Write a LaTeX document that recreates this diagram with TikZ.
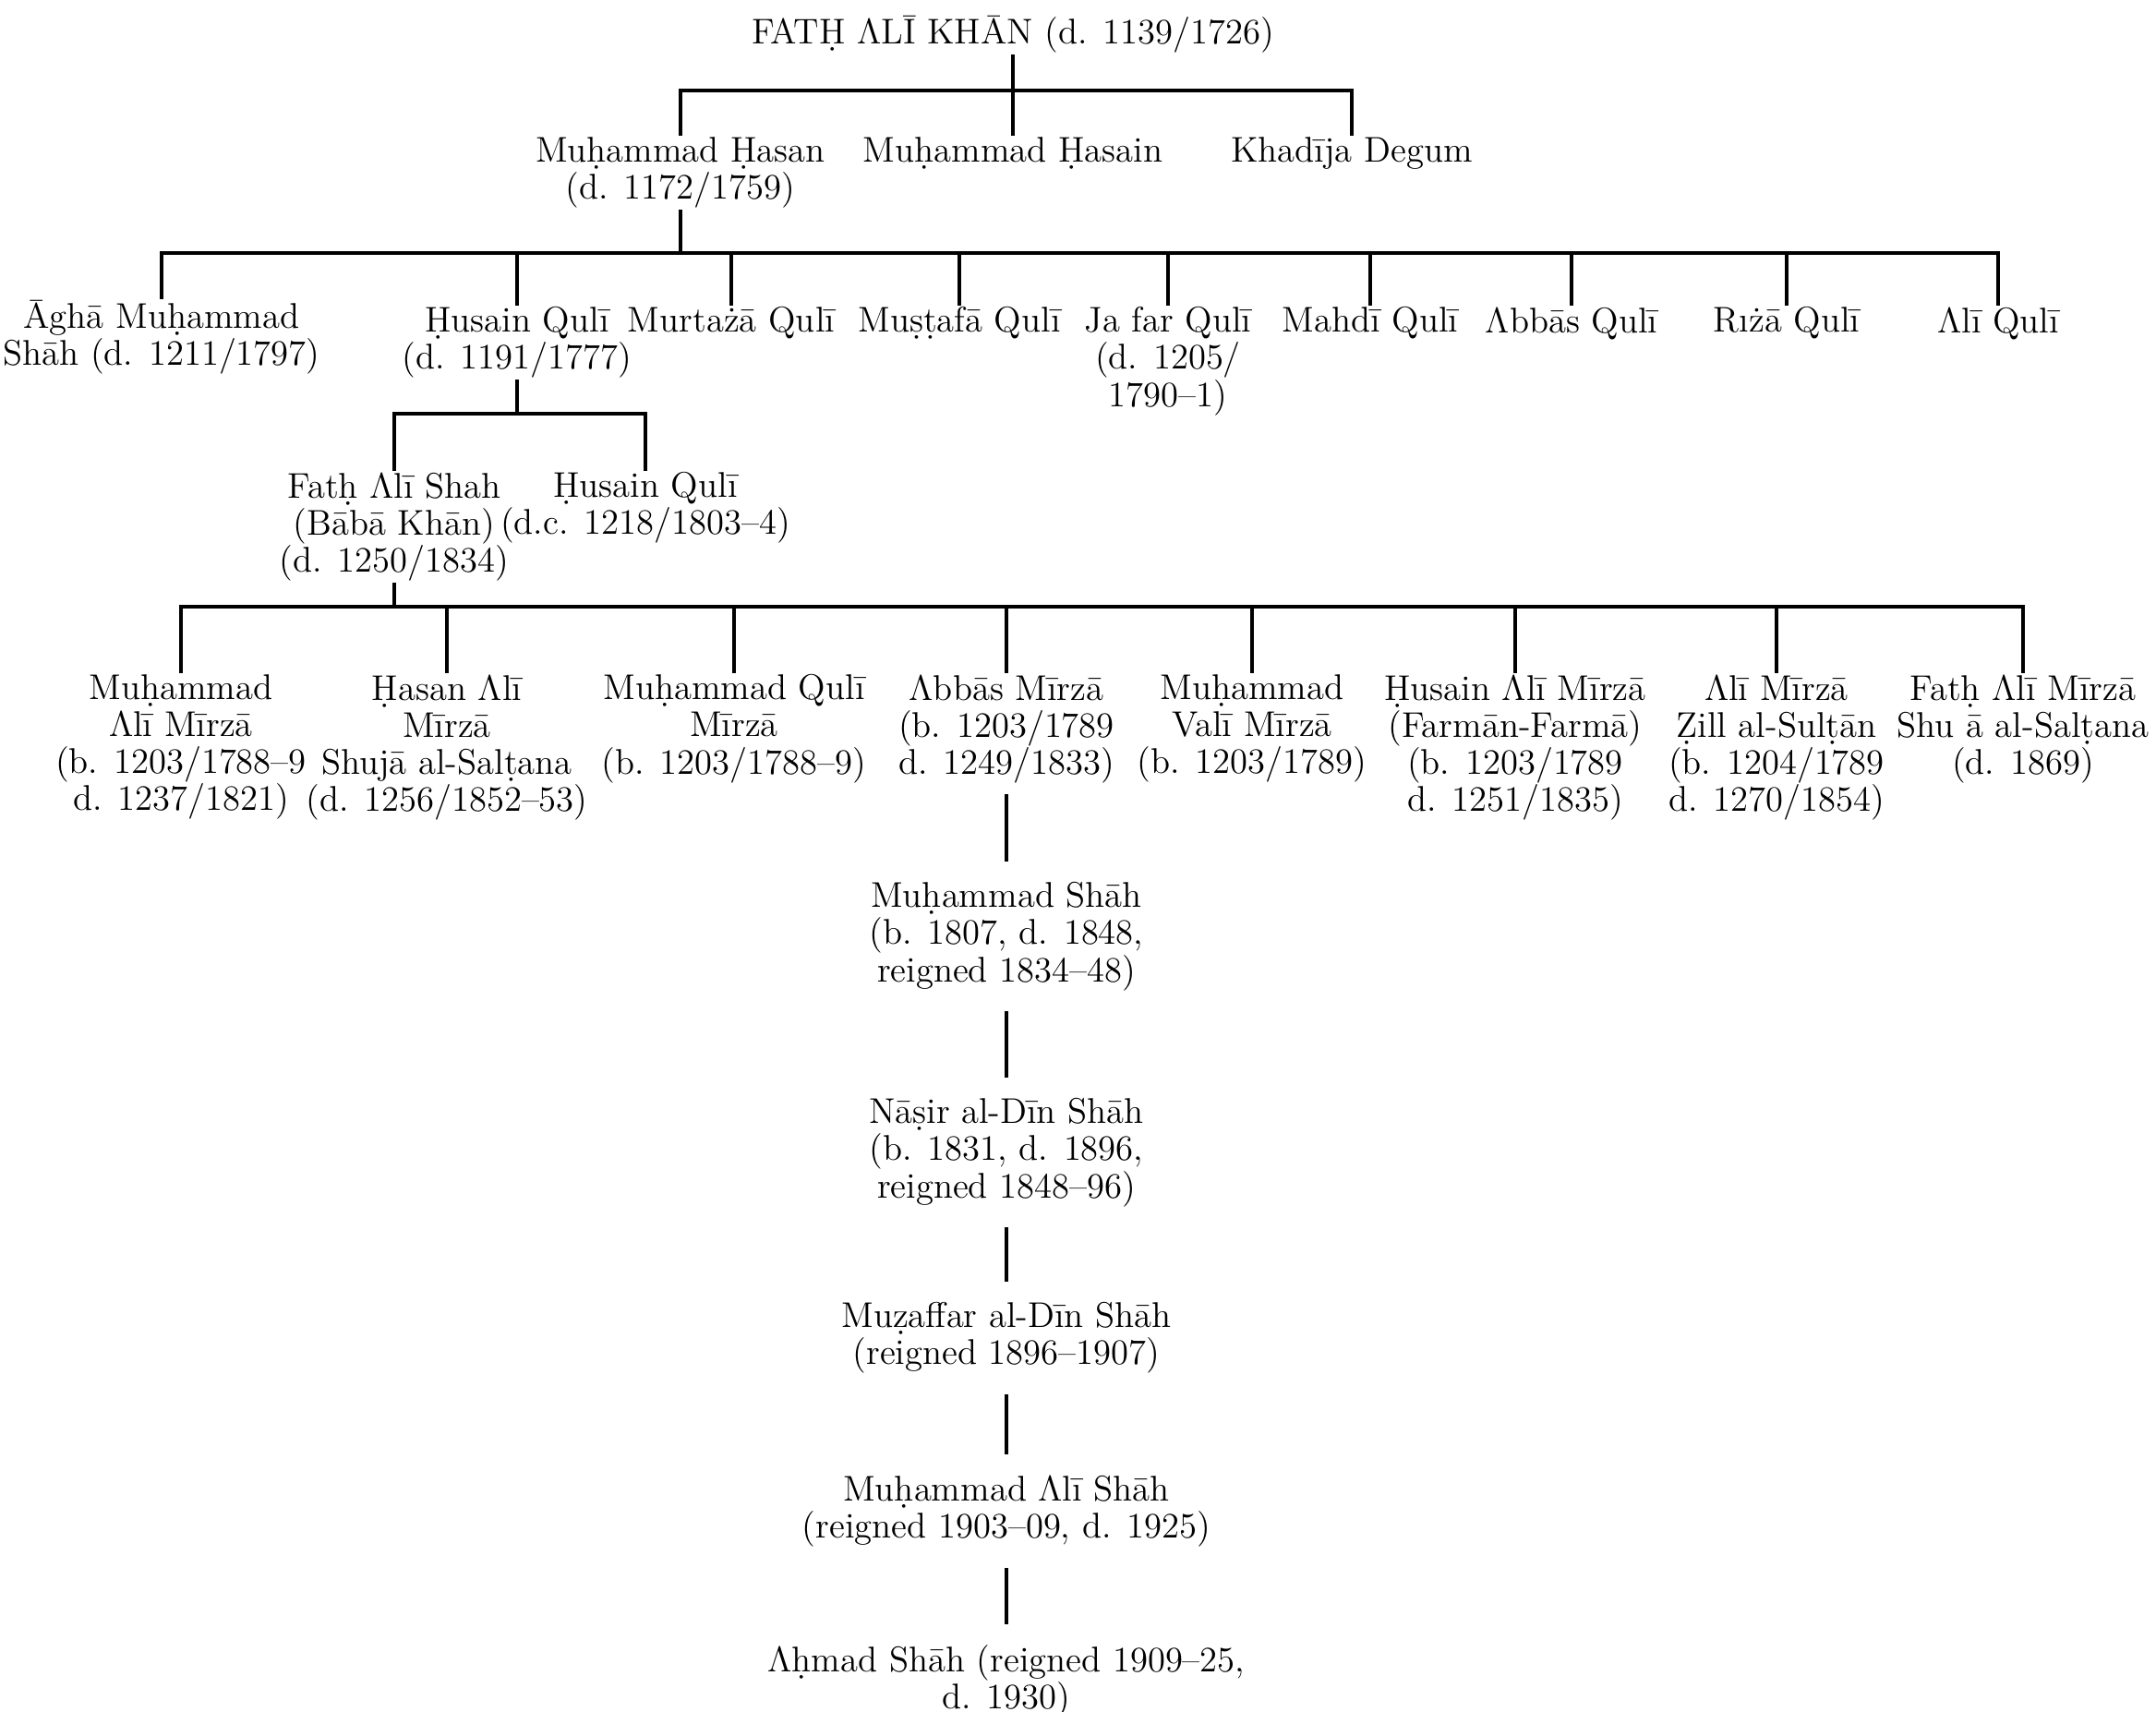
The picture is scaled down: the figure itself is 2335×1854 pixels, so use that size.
\documentclass[tikz,border=0pt]{standalone}
\usepackage{fontspec}
\newcommand{\famfont}{\fontsize{11}{11.4}\selectfont\lineskiplimit=-6pt\relax}
\begin{document}
\begin{tikzpicture}[x=0.01cm,y=-0.01cm,line width=0.9pt,
        person/.style={anchor=north,align=center,inner sep=0pt,font=\famfont},
        gap/.style={shorten <=6pt,shorten >=6pt}]
        \useasboundingbox (0,0) rectangle (2335,1854);
        \node[person] (fath) at (1097,16) {FATḤ ΛLĪ KHĀN (d. 1139/1726)};
        \node[person] (mhasan) at (737,147) {Muḥammad Ḥasan\\(d. 1172/1759)};
        \node[person] (mhasain) at (1097,147) {Muḥammad Ḥasain};
        \node[person] (khadija) at (1464,147) {Khadīja Degum};
        \node[person] (agha) at (175,324) {Āghā Muḥammad\\Shāh (d. 1211/1797)};
        \node[person] (husainA) at (560,331) {Ḥusain Qulī\\(d. 1191/1777)};
        \node[person] (murtaza) at (792,331) {Murtażā Qulī};
        \node[person] (mustafa) at (1039,331) {Muṣṭafā Qulī};
        \node[person] (jafar) at (1265,331) {Ja far Qulī\\(d. 1205/\\1790–1)};
        \node[person] (mahdi) at (1484,331) {Mahdī Qulī};
        \node[person] (abbasq) at (1702,331) {Λbbās Qulī};
        \node[person] (riza) at (1935,331) {Rıżā Qulī};
        \node[person] (aliq) at (2164,331) {Λlī Qulī};
        \node[person] (fathshah) at (427,510) {Fatḥ Λlī Shah\\(Bābā Khān)\\(d. 1250/1834)};
        \node[person] (husainB) at (699,510) {Ḥusain Qulī\\(d.c. 1218/1803–4)};
        \node[person] (mali) at (196,729) {Muḥammad\\Λlī Mīrzā\\(b. 1203/1788–9\\d. 1237/1821)};
        \node[person] (hasanali) at (484,729) {Ḥasan Λlī\\Mīrzā\\Shujā al-Salṭana\\(d. 1256/1852–53)};
        \node[person] (mquli) at (795,729) {Muḥammad Qulī\\Mīrzā\\(b. 1203/1788–9)};
        \node[person] (abbas) at (1090,729) {Λbbās Mīrzā\\(b. 1203/1789\\d. 1249/1833)};
        \node[person] (mvali) at (1356,729) {Muḥammad\\Valī Mīrzā\\(b. 1203/1789)};
        \node[person] (husainali) at (1641,729) {Ḥusain Λlī Mīrzā\\(Farmān-Farmā)\\(b. 1203/1789\\d. 1251/1835)};
        \node[person] (alimirza) at (1924,729) {Λlī Mīrzā\\Ẓill al-Sulṭān\\(b. 1204/1789\\d. 1270/1854)};
        \node[person] (fmirza) at (2191,729) {Fatḥ Λlī Mīrzā\\Shu ā al-Salṭana\\(d. 1869)};
        \node[person] (mshah) at (1090,954) {Muḥammad Shāh\\(b. 1807, d. 1848,\\reigned 1834–48)};
        \node[person] (nasir) at (1090,1188) {Nāṣir al-Dīn Shāh\\(b. 1831, d. 1896,\\reigned 1848–96)};
        \node[person] (muzaffar) at (1090,1409) {Muẓaffar al-Dīn Shāh\\(reigned 1896–1907)};
        \node[person] (malishah) at (1090,1596) {Muḥammad Λlī Shāh\\(reigned 1903–09, d. 1925)};
        \node[person] (ahmad) at (1090,1780) {Λḥmad Shāh (reigned 1909–25,\\d. 1930)};
        \coordinate (b1) at (fath.south |- 0,98);
        \draw (fath.south) -- (mhasain.north);
        \draw (mhasan.north) |- (b1) -| (khadija.north);
        \coordinate (b2) at (mhasan.south |- 0,274);
        \draw (mhasan.south) -- (b2);
        \draw (agha.north) |- (b2) -| (aliq.north);
        \foreach \k in {husainA,murtaza,mustafa,jafar,mahdi,abbasq,riza}
          \draw (\k.north) -- (\k.north |- b2);
        \coordinate (b3) at (husainA.south |- 0,448);
        \draw (husainA.south) -- (b3);
        \draw (fathshah.north) |- (b3) -| (husainB.north);
        \coordinate (b4) at (fathshah.south |- 0,657);
        \draw (fathshah.south) -- (b4);
        \draw (mali.north) |- (b4) -| (fmirza.north);
        \foreach \k in {hasanali,mquli,abbas,mvali,husainali,alimirza}
          \draw (\k.north) -- (\k.north |- b4);
        \draw[shorten <=3pt,shorten >=6pt] (abbas.south) -- (mshah.north);
        \draw[gap] (mshah.south) -- (nasir.north);
        \draw[gap] (nasir.south) -- (muzaffar.north);
        \draw[gap] (muzaffar.south) -- (malishah.north);
        \draw[gap] (malishah.south) -- (ahmad.north);
\end{tikzpicture}
\end{document}
